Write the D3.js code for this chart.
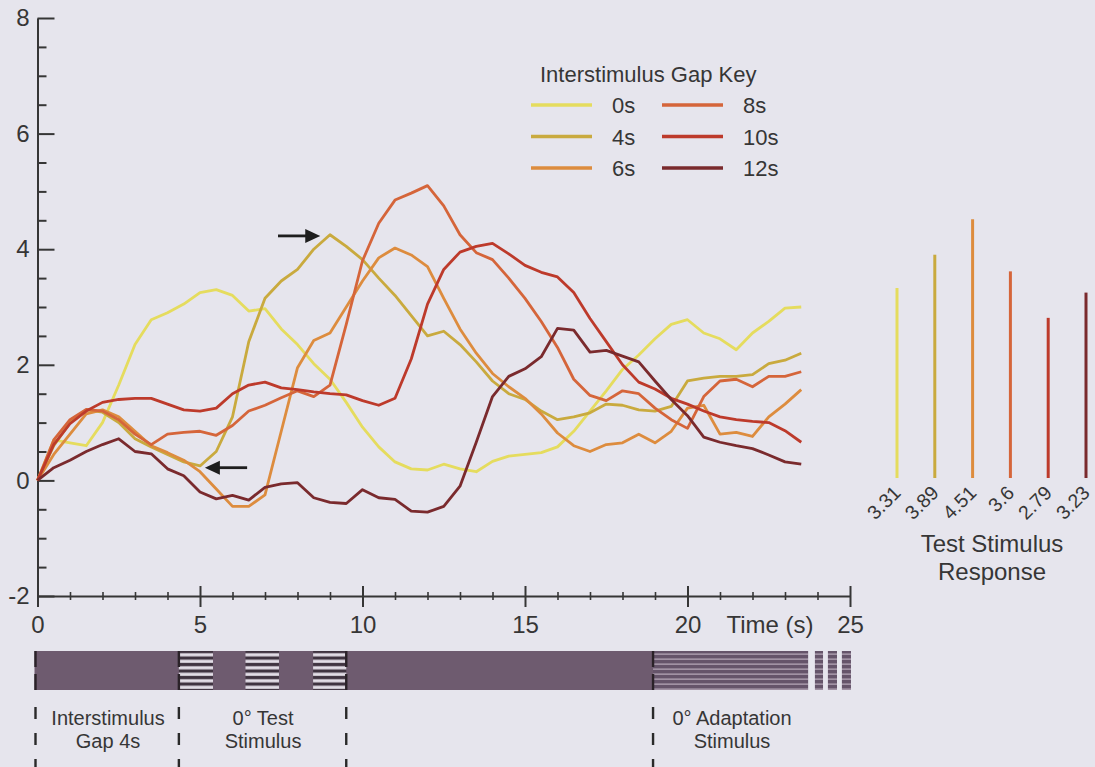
<!DOCTYPE html>
<html>
<head>
<meta charset="utf-8">
<script src="https://cdn.jsdelivr.net/npm/d3@7"></script>
<style>
  html, body { margin: 0; padding: 0; background: #e6e5ed; }
  svg { display: block; font-family: "Liberation Sans", Arial, Helvetica, sans-serif; }
</style>
</head>
<body>
<svg id="chart" width="1095" height="767"></svg>
<script>
// Sample times (s) of the averaged response traces
const times = [0, 0.5, 1, 1.5, 2, 2.5, 3, 3.5, 4, 4.5, 5, 5.5, 6, 6.5, 7, 7.5, 8, 8.5, 9, 9.5,
  10, 10.5, 11, 11.5, 12, 12.5, 13, 13.5, 14, 14.5, 15, 15.5, 16, 16.5, 17, 17.5, 18, 18.5, 19, 19.5,
  20, 20.5, 21, 21.5, 22, 22.5, 23, 23.5];

// Response traces, one per interstimulus gap
const gap0s  = [0, 0.7, 0.65, 0.6, 1.0, 1.65, 2.35, 2.78, 2.9, 3.05, 3.25, 3.3, 3.2, 2.93, 2.97, 2.62, 2.35, 2.02, 1.75, 1.35,
  0.92, 0.58, 0.32, 0.2, 0.18, 0.28, 0.2, 0.15, 0.33, 0.42, 0.45, 0.48, 0.58, 0.85, 1.2, 1.55, 1.92, 2.17, 2.45, 2.7,
  2.78, 2.55, 2.45, 2.26, 2.55, 2.75, 2.98, 3.0];
const gap4s  = [0, 0.6, 1.0, 1.22, 1.18, 1.0, 0.72, 0.58, 0.45, 0.32, 0.25, 0.5, 1.1, 2.4, 3.15, 3.45, 3.65, 4.0, 4.25, 4.05,
  3.82, 3.5, 3.2, 2.85, 2.5, 2.58, 2.35, 2.05, 1.72, 1.5, 1.4, 1.2, 1.05, 1.1, 1.17, 1.32, 1.3, 1.22, 1.2, 1.28,
  1.72, 1.77, 1.8, 1.8, 1.83, 2.02, 2.08, 2.2];
const gap6s  = [0, 0.45, 0.8, 1.15, 1.22, 1.1, 0.85, 0.6, 0.48, 0.35, 0.15, -0.15, -0.45, -0.45, -0.25, 0.85, 1.95, 2.42, 2.55, 3.0,
  3.45, 3.85, 4.02, 3.9, 3.7, 3.15, 2.62, 2.2, 1.85, 1.62, 1.42, 1.15, 0.82, 0.6, 0.5, 0.62, 0.65, 0.8, 0.65, 0.85,
  1.25, 1.3, 0.8, 0.83, 0.76, 1.1, 1.32, 1.57];
const gap8s  = [0, 0.7, 1.05, 1.23, 1.2, 1.05, 0.8, 0.62, 0.8, 0.83, 0.85, 0.78, 0.95, 1.2, 1.3, 1.43, 1.55, 1.45, 1.65, 2.7,
  3.8, 4.45, 4.85, 4.97, 5.1, 4.75, 4.25, 3.94, 3.82, 3.5, 3.15, 2.75, 2.3, 1.75, 1.47, 1.38, 1.55, 1.5, 1.25, 1.05,
  0.9, 1.45, 1.72, 1.75, 1.62, 1.8, 1.8, 1.88];
const gap10s = [0, 0.62, 0.98, 1.2, 1.35, 1.4, 1.42, 1.42, 1.32, 1.22, 1.2, 1.25, 1.5, 1.65, 1.7, 1.6, 1.57, 1.53, 1.5, 1.48,
  1.38, 1.3, 1.42, 2.1, 3.05, 3.65, 3.95, 4.05, 4.1, 3.92, 3.72, 3.6, 3.52, 3.25, 2.8, 2.4, 2.0, 1.7, 1.58, 1.42,
  1.32, 1.2, 1.1, 1.05, 1.02, 1.0, 0.86, 0.66];
const gap12s = [0, 0.22, 0.35, 0.5, 0.62, 0.72, 0.5, 0.46, 0.2, 0.08, -0.2, -0.32, -0.26, -0.34, -0.12, -0.06, -0.04, -0.3, -0.38, -0.4,
  -0.16, -0.3, -0.33, -0.53, -0.55, -0.45, -0.1, 0.66, 1.45, 1.8, 1.93, 2.14, 2.63, 2.6, 2.22, 2.25, 2.15, 2.05, 1.72, 1.4,
  1.12, 0.75, 0.66, 0.6, 0.55, 0.44, 0.32, 0.28];

const gapLabels = ["0s", "4s", "6s", "8s", "10s", "12s"];
const testResponses = [3.31, 3.89, 4.51, 3.6, 2.79, 3.23];
const gapColors = ["#e5dc5e", "#c9aa3e", "#dd8c3e", "#d5653a", "#bd3a2b", "#7a2a2d"];

const xMajorTicks = [0, 5, 10, 15, 20, 25];
const yMajorTicks = [-2, 0, 2, 4, 6, 8];

// Stimulus timeline (s)
const timelineEnd = 23.71;
const testFlashes = [[4.35, 5.4], [6.4, 7.43], [8.48, 9.5]];
const adaptationBlocks = [[18.94, 23.71], [23.92, 24.17], [24.32, 24.6], [24.75, 25.03]];
const phaseMarks = [0, 4.35, 9.5, 18.94];
const phaseTexts = [
  { at: 2.17, lines: ["Interstimulus", "Gap 4s"] },
  { at: 6.94, lines: ["0\u00b0 Test", "Stimulus"] },
  { at: 21.37, lines: ["0\u00b0 Adaptation", "Stimulus"] }
];

// Annotation arrows in data coordinates [time, response]
const arrows = [
  { from: [7.4, 4.23], to: [8.7, 4.23] },
  { from: [6.45, 0.22], to: [5.15, 0.22] }
];

const series = [gap0s, gap4s, gap6s, gap8s, gap10s, gap12s].map((values, i) => ({
  label: gapLabels[i], color: gapColors[i], values
}));

const svg = d3.select("#chart");
const ink = "#363636";
const fontStack = '"Liberation Sans", Arial, Helvetica, sans-serif';

const x = d3.scaleLinear().domain([0, 25]).range([37.5, 850]);
const y = d3.scaleLinear().domain([-2, 8]).range([596, 18]);

// ---- axes ----
const yMinor = d3.range(-2, 8.01, 0.5).filter(v => !yMajorTicks.includes(v));
svg.append("g").attr("transform", `translate(${x(0)},0)`)
  .call(d3.axisLeft(y).tickValues(yMinor).tickSizeInner(-9).tickSizeOuter(0).tickFormat(""))
  .call(g => g.select(".domain").remove())
  .call(g => g.selectAll(".tick line").attr("stroke", ink).attr("stroke-width", 2));

svg.append("g").attr("transform", `translate(${x(0)},0)`)
  .call(d3.axisLeft(y).tickValues(yMajorTicks).tickSizeInner(-17).tickSizeOuter(0).tickPadding(8)
    .tickFormat(d => String(d)))
  .attr("font-family", fontStack).attr("font-size", 24)
  .call(g => g.select(".domain").attr("stroke", ink).attr("stroke-width", 2))
  .call(g => g.selectAll(".tick line").attr("stroke", ink).attr("stroke-width", 2))
  .call(g => g.selectAll(".tick text").attr("fill", ink));

const xMinor = d3.range(0, 25.01, 1).filter(v => !xMajorTicks.includes(v));
svg.append("g").attr("transform", `translate(0,${y(-2)})`)
  .call(d3.axisBottom(x).tickValues(xMinor).tickSizeOuter(0).tickFormat(""))
  .call(g => g.select(".domain").remove())
  .call(g => g.selectAll(".tick line").attr("y1", -4).attr("y2", 4).attr("stroke", ink).attr("stroke-width", 1.6));

svg.append("g").attr("transform", `translate(0,${y(-2)})`)
  .call(d3.axisBottom(x).tickValues(xMajorTicks).tickSizeOuter(0).tickFormat(d => String(d)))
  .attr("font-family", fontStack).attr("font-size", 24)
  .call(g => g.select(".domain").attr("stroke", ink).attr("stroke-width", 2))
  .call(g => g.selectAll(".tick line").attr("y1", -10).attr("y2", 11).attr("stroke", ink).attr("stroke-width", 2))
  .call(g => g.selectAll(".tick text").attr("y", 37).attr("dy", 0).attr("fill", ink));

svg.append("text").attr("x", x(20) + 39).attr("y", y(-2) + 37)
  .attr("font-size", 24).attr("fill", ink).text("Time (s)");

// ---- traces ----
const line = d3.line().x((d, i) => x(times[i])).y(d => y(d));
svg.append("g").selectAll("path").data(series).join("path")
  .attr("d", d => line(d.values))
  .attr("fill", "none")
  .attr("stroke", d => d.color)
  .attr("stroke-width", 2.8)
  .attr("stroke-linejoin", "round");

// ---- arrows ----
arrows.forEach(a => {
  const x0 = x(a.from[0]), x1 = x(a.to[0]), yy = y(a.to[1]);
  const dir = Math.sign(x1 - x0), head = 15;
  svg.append("line").attr("x1", x0).attr("y1", yy).attr("x2", x1 - dir * head + dir * 2).attr("y2", yy)
    .attr("stroke", "#1e1e1e").attr("stroke-width", 2.8);
  svg.append("path")
    .attr("d", `M${x1},${yy} L${x1 - dir * head},${yy - 7} L${x1 - dir * head},${yy + 7} Z`)
    .attr("fill", "#1e1e1e");
});

// ---- legend ----
const legend = svg.append("g");
legend.append("text").attr("x", 540).attr("y", 82).attr("font-size", 22).attr("fill", ink)
  .text("Interstimulus Gap Key");
const lgItems = legend.selectAll("g.item").data(series).join("g").attr("class", "item")
  .attr("transform", (d, i) => `translate(${531 + Math.floor(i / 3) * 131},${105 + (i % 3) * 31.5})`);
lgItems.append("line").attr("x1", 0).attr("x2", 61).attr("stroke", d => d.color).attr("stroke-width", 3.6);
lgItems.append("text").attr("x", 81).attr("y", 8).attr("font-size", 22).attr("fill", ink).text(d => d.label);

// ---- test stimulus response bars ----
const xb = d3.scalePoint().domain(gapLabels).range([897, 1086]);
const yb = d3.scaleLinear().domain([0, 5]).range([478, 191]);
svg.append("g").selectAll("line").data(testResponses).join("line")
  .attr("x1", (d, i) => xb(gapLabels[i])).attr("x2", (d, i) => xb(gapLabels[i]))
  .attr("y1", yb(0)).attr("y2", d => yb(d))
  .attr("stroke", (d, i) => gapColors[i]).attr("stroke-width", 3);
svg.append("g").selectAll("text").data(testResponses).join("text")
  .attr("transform", (d, i) => `translate(${xb(gapLabels[i]) + 5},${yb(0) + 16}) rotate(-45)`)
  .attr("text-anchor", "end").attr("font-size", 19.5).attr("fill", ink)
  .text(d => d);
svg.append("text").attr("x", 992).attr("y", 552).attr("text-anchor", "middle")
  .attr("font-size", 24).attr("fill", ink).text("Test Stimulus");
svg.append("text").attr("x", 992).attr("y", 580).attr("text-anchor", "middle")
  .attr("font-size", 24).attr("fill", ink).text("Response");

// ---- stimulus timeline ----
const barTop = 651, barH = 39, purple = "#6e5b6f";
const defs = svg.append("defs");
const testPat = defs.append("pattern").attr("id", "testGrating").attr("patternUnits", "userSpaceOnUse")
  .attr("x", 0).attr("y", barTop).attr("width", 10).attr("height", 6.5);
testPat.append("rect").attr("width", 10).attr("height", 6.5).attr("fill", "#3f3340");
testPat.append("rect").attr("y", 2.2).attr("width", 10).attr("height", 3.2).attr("fill", "#e2dde6");
const adaptPat = defs.append("pattern").attr("id", "adaptGrating").attr("patternUnits", "userSpaceOnUse")
  .attr("x", 0).attr("y", barTop).attr("width", 10).attr("height", 5);
adaptPat.append("rect").attr("width", 10).attr("height", 5).attr("fill", "#65546a");
adaptPat.append("rect").attr("y", 2.4).attr("width", 10).attr("height", 1.5).attr("fill", "#a899ab");

const tl = svg.append("g");
tl.append("rect").attr("x", x(0) - 3).attr("y", barTop).attr("width", x(timelineEnd) - x(0) + 3).attr("height", barH)
  .attr("fill", purple);
tl.selectAll("rect.test").data(testFlashes).join("rect").attr("class", "test")
  .attr("x", d => x(d[0])).attr("width", d => x(d[1]) - x(d[0]))
  .attr("y", barTop).attr("height", barH).attr("fill", "url(#testGrating)");
tl.selectAll("rect.adapt").data(adaptationBlocks).join("rect").attr("class", "adapt")
  .attr("x", d => x(d[0])).attr("width", d => x(d[1]) - x(d[0]))
  .attr("y", barTop).attr("height", barH).attr("fill", "url(#adaptGrating)");

// phase boundary markers
tl.selectAll("line.inbar").data(phaseMarks).join("line").attr("class", "inbar")
  .attr("x1", (d, i) => x(d) - (i === 0 ? 2 : 0)).attr("x2", (d, i) => x(d) - (i === 0 ? 2 : 0))
  .attr("y1", barTop).attr("y2", barTop + barH)
  .attr("stroke", "#2a2228").attr("stroke-width", 2.4).attr("stroke-dasharray", "16,7,16");
tl.selectAll("line.below").data(phaseMarks).join("line").attr("class", "below")
  .attr("x1", (d, i) => x(d) - (i === 0 ? 2 : 0)).attr("x2", (d, i) => x(d) - (i === 0 ? 2 : 0))
  .attr("y1", 707).attr("y2", 767)
  .attr("stroke", "#2a2a2a").attr("stroke-width", 2.4).attr("stroke-dasharray", "12,14");

const pt = tl.selectAll("text.phase").data(phaseTexts).join("text").attr("class", "phase")
  .attr("text-anchor", "middle").attr("font-size", 20).attr("fill", ink);
pt.selectAll("tspan").data(d => d.lines.map((s, k) => ({ s, k, at: d.at }))).join("tspan")
  .attr("x", d => x(d.at)).attr("y", d => 725 + d.k * 23).text(d => d.s);
</script>
</body>
</html>
